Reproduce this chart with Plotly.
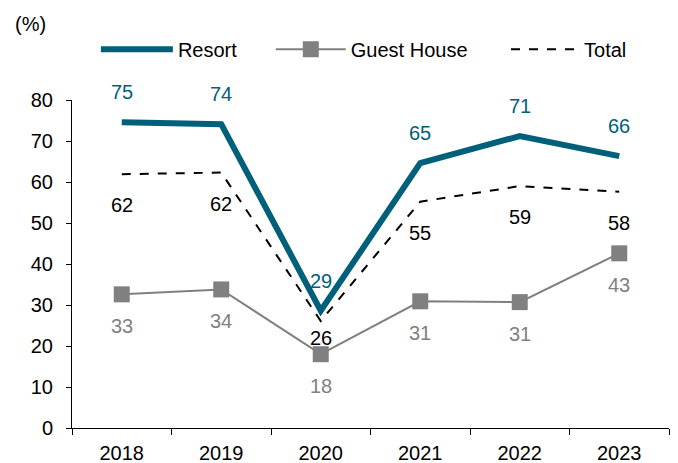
import plotly.graph_objects as go

years = ["2018", "2019", "2020", "2021", "2022", "2023"]
resort = [74.6, 74.1, 28.6, 64.6, 71.2, 66.3]
guest_house = [32.6, 33.8, 18.0, 30.9, 30.7, 42.6]
total = [61.9, 62.3, 26.1, 55.2, 59.0, 57.6]

TEAL = "#00607A"
GREY = "#808080"
FONT = "Liberation Sans, Arial, sans-serif"

fig = go.Figure()
fig.add_trace(go.Scatter(x=years, y=resort, name="Resort", mode="lines",
                         line=dict(color=TEAL, width=6), legend="legend"))
fig.add_trace(go.Scatter(x=years, y=guest_house, name="Guest House", mode="lines+markers",
                         line=dict(color=GREY, width=2),
                         marker=dict(symbol="square", size=16, color=GREY), legend="legend2"))
fig.add_trace(go.Scatter(x=years, y=total, name="Total", mode="lines",
                         line=dict(color="black", width=2, dash="dash"), legend="legend3"))

ann = []
for i, v in enumerate(resort):
    ann.append(dict(x=i, y=v, text=f"{v:.0f}", showarrow=False, yshift=30,
                    font=dict(color=TEAL, size=20, family=FONT)))
for i, v in enumerate(total):
    ann.append(dict(x=i, y=v, text=f"{v:.0f}", showarrow=False,
                    yshift=-17 if i == 2 else -31,
                    font=dict(color="black", size=20, family=FONT)))
for i, v in enumerate(guest_house):
    ann.append(dict(x=i, y=v, text=f"{v:.0f}", showarrow=False, yshift=-32,
                    font=dict(color=GREY, size=20, family=FONT)))
ann.append(dict(x=-0.0695, y=1.232, xref="paper", yref="paper", text="(%)",
                showarrow=False, xanchor="center", yanchor="middle",
                font=dict(color="black", size=20, family=FONT)))

def leg(x, w):
    return dict(orientation="h", x=x, y=1.155, xanchor="left", yanchor="middle",
                font=dict(size=20, family=FONT, color="black"), itemwidth=w,
                bgcolor="rgba(0,0,0,0)")

fig.update_layout(
    width=678, height=463,
    margin=dict(l=72, r=9, t=100, b=35, autoexpand=False),
    paper_bgcolor="white", plot_bgcolor="white",
    font=dict(family=FONT, size=20, color="black"),
    showlegend=True,
    legend=leg(0.04, 72),
    legend2=leg(0.333, 70),
    legend3=leg(0.727, 68),
    annotations=ann,
    xaxis=dict(type="category", range=[-0.5, 5.5], tickson="boundaries",
               ticks="outside", ticklen=6, tickcolor="black",
               showline=True, linecolor="black", linewidth=1, automargin=False,
               showgrid=False, zeroline=False, ticklabelstandoff=7),
    yaxis=dict(range=[0, 80], dtick=10, ticks="outside", ticklen=5,
               tickcolor="black", showline=True, linecolor="black", linewidth=1,
               automargin=False,
               showgrid=False, zeroline=False, ticklabelstandoff=9),
)

fig.write_html("out.html")
